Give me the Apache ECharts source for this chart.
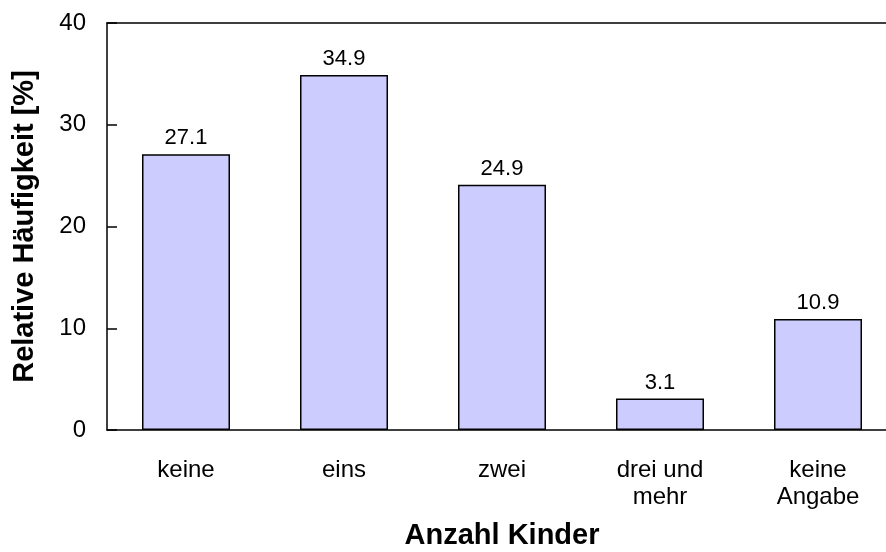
<!DOCTYPE html>
<html>
<head>
<meta charset="utf-8">
<script src="https://cdn.jsdelivr.net/npm/echarts@6/dist/echarts.min.js"></script>
<style>
  html, body { margin: 0; padding: 0; background: #fff; }
</style>
</head>
<body>
<div id="myChart" style="width: 886px; height: 552px"></div>
<script>
const categories = ['keine', 'eins', 'zwei', 'drei und\nmehr', 'keine\nAngabe'];
// bar heights as drawn; the printed labels are kept separately (zwei is labelled 24.9)
const barValues = [27.1, 34.9, 24.1, 3.1, 10.9];
const barLabels = ['27.1', '34.9', '24.9', '3.1', '10.9'];
const yTicks = [0, 10, 20, 30, 40];

const font = 'Liberation Sans, Arial, sans-serif';
const mychart = echarts.init(document.getElementById('myChart'));

const options = {
  animation: false,
  textStyle: { fontFamily: font },
  grid: {
    left: 107,
    right: -11,
    top: 23,
    bottom: 122,
    outerBoundsMode: 'none',
  },
  xAxis: [
    {
      type: 'category',
      data: categories,
      position: 'bottom',
      axisLine: { lineStyle: { color: '#000', width: 1.5 } },
      axisTick: { show: false },
      axisLabel: {
        color: '#000',
        fontSize: 24,
        lineHeight: 27,
        margin: 27,
        interval: 0,
        fontFamily: font,
      },
      name: 'Anzahl Kinder',
      nameLocation: 'middle',
      nameGap: 91,
      nameTextStyle: {
        color: '#000',
        fontSize: 29,
        fontWeight: 'bold',
        fontFamily: font,
      },
    },
    {
      type: 'category',
      data: categories,
      position: 'top',
      axisLine: { show: true, onZero: false, lineStyle: { color: '#000', width: 1.5 } },
      axisTick: { show: false },
      axisLabel: { show: false },
    },
  ],
  yAxis: [
    {
      type: 'value',
      min: yTicks[0],
      max: yTicks[yTicks.length - 1],
      interval: 10,
      axisLine: { show: true, lineStyle: { color: '#000', width: 1.5 } },
      axisTick: { show: true, inside: true, length: 10, lineStyle: { color: '#000', width: 1.5 } },
      splitLine: { show: false },
      axisLabel: {
        color: '#000',
        fontSize: 24,
        margin: 21,
        fontFamily: font,
      },
      name: 'Relative Häufigkeit [%]',
      nameLocation: 'middle',
      nameGap: 68,
      nameTextStyle: {
        color: '#000',
        fontSize: 29,
        fontWeight: 'bold',
        fontFamily: font,
      },
    },
  ],
  series: [
    {
      type: 'bar',
      data: barValues,
      barWidth: 88,
      itemStyle: {
        color: '#ccccff',
        borderColor: '#000',
        borderWidth: 1.5,
      },
      label: {
        show: true,
        position: 'top',
        distance: 5,
        color: '#000',
        fontSize: 22,
        fontFamily: font,
        formatter: (p) => barLabels[p.dataIndex],
      },
    },
  ],
};
mychart.setOption(options);
</script>
</body>
</html>
